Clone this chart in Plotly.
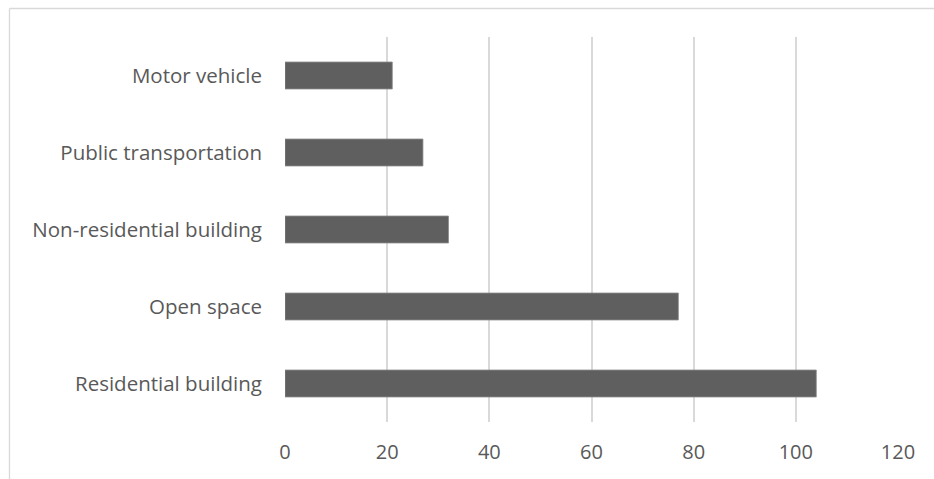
import plotly.graph_objects as go

# Categories listed bottom-to-top as Plotly stacks horizontal bar categories
categories = [
    "Residential building",
    "Open space",
    "Non-residential building",
    "Public transportation",
    "Motor vehicle",
]
values = [104, 77, 32, 27, 21]
x_ticks = [0, 20, 40, 60, 80, 100, 120]

W, H = 934, 479
ml, mr, mt, mb = 285, 36, 37, 57
plot_w = W - ml - mr
plot_h = H - mt - mb

fig = go.Figure(
    go.Bar(
        x=values,
        y=categories,
        orientation="h",
        marker=dict(color="#5f5f5f", line=dict(color="#8a8a8a", width=0.8)),
        hoverinfo="x+y",
    )
)

# Chart-area border (light grey frame)
left = (9.5 - ml) / plot_w
top = (plot_h + mt - 8.5) / plot_h
fig.add_shape(type="line", xref="paper", yref="paper",
              x0=left, x1=left, y0=-1, y1=top,
              line=dict(color="#d9d9d9", width=1.3))
fig.add_shape(type="line", xref="paper", yref="paper",
              x0=left, x1=2, y0=top, y1=top,
              line=dict(color="#d9d9d9", width=1.3))

ylab_font = dict(family="Open Sans, Lato, sans-serif", size=20.5, color="#595959")
xlab_font = dict(family="Open Sans, Lato, sans-serif", size=20, color="#595959")

fig.update_layout(
    width=W, height=H,
    margin=dict(l=ml, r=mr, t=mt, b=mb, pad=0),
    paper_bgcolor="white",
    plot_bgcolor="white",
    bargap=0.65,
    showlegend=False,
    font=ylab_font,
    xaxis=dict(
        range=[0, 120],
        tickvals=x_ticks,
        ticktext=[str(v) for v in x_ticks],
        showgrid=True,
        gridcolor="#d9d9d9",
        gridwidth=1.5,
        zeroline=False,
        showline=False,
        ticks="",
        ticklabelstandoff=16,
        tickfont=xlab_font,
        fixedrange=True,
    ),
    yaxis=dict(
        showgrid=False,
        zeroline=False,
        showline=False,
        ticks="",
        ticklabelstandoff=22,
        tickfont=ylab_font,
        fixedrange=True,
    ),
)

fig.write_html("out.html")
